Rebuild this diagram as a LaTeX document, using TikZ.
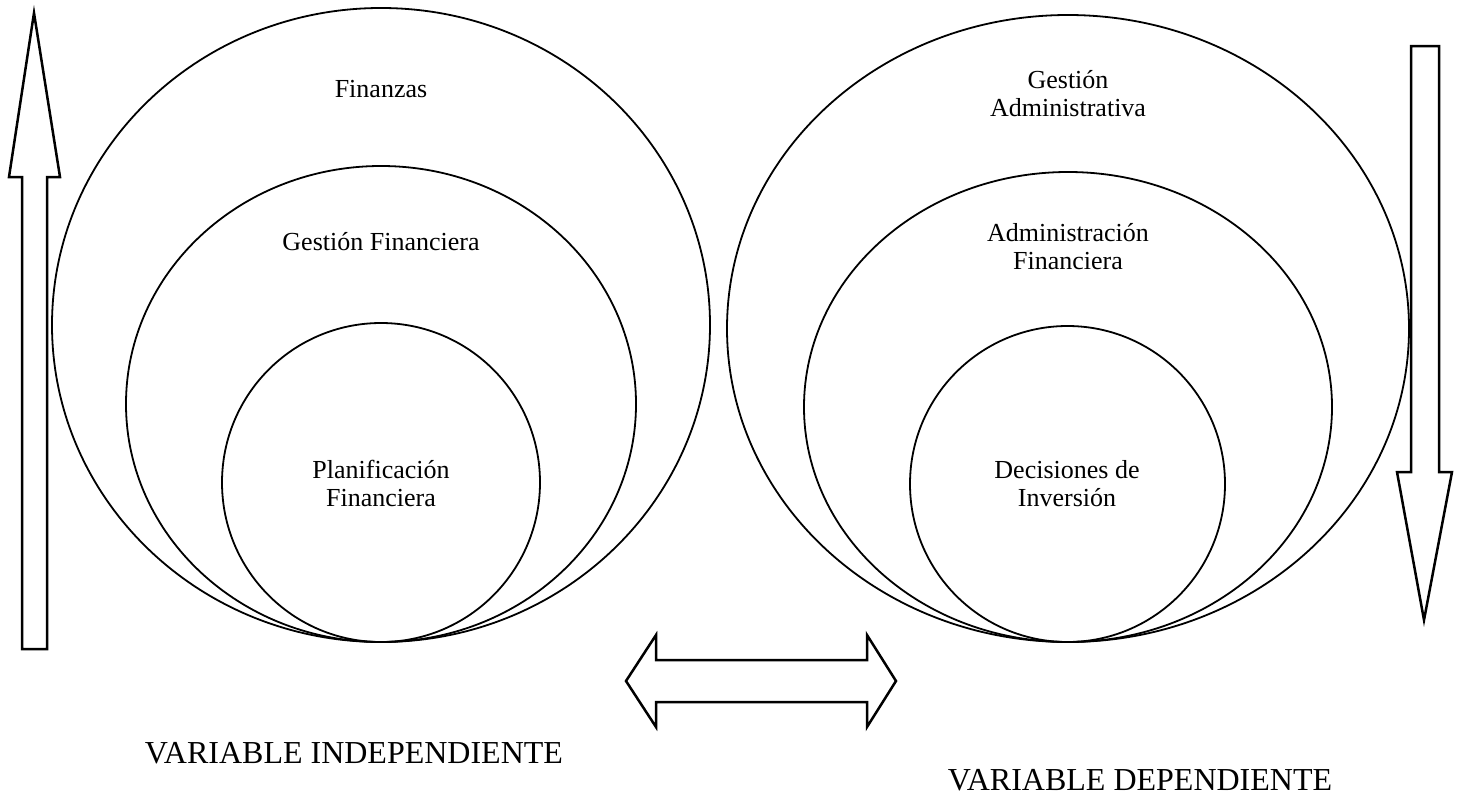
\documentclass[tikz,border=0pt]{standalone}
\usepackage{fontspec}
\setmainfont{Liberation Serif}
\usetikzlibrary{shapes.geometric}

\begin{document}
\begin{tikzpicture}[x=1pt, y=-1pt, every node/.style={font=\fontsize{26}{28}\selectfont, align=center}]
\tikzset{ring/.style={draw, ellipse, line width=1.8pt, inner sep=0pt, outer sep=0pt}}
\tikzset{blockarrow/.style={draw, line width=2.5pt, line join=miter}}
\tikzset{varlabel/.style={font=\fontsize{32}{36}\selectfont, anchor=base}}
\useasboundingbox (0,0) rectangle (1462,803);

% independiente
\node[ring, minimum width=658pt, minimum height=634pt] (fin) at (381,325) {};
\node[ring, minimum width=510pt, minimum height=476pt] (gfin) at (381,404) {};
\node[ring, minimum width=318pt, minimum height=319pt] (plan) at (381,482.5) {};
\node[anchor=base] (tfin) at (381,97) {Finanzas};
\node[anchor=base] (tgfin) at (381,250) {Gestión Financiera};
\node[anchor=base] (tplan) at (381,506) {Planificación\\Financiera};

% dependiente
\node[ring, minimum width=682pt, minimum height=627pt] (gadm) at (1068,328.5) {};
\node[ring, minimum width=528pt, minimum height=470pt] (afin) at (1068,407) {};
\node[ring, minimum width=315pt, minimum height=316pt] (dinv) at (1067.5,484) {};
\node[anchor=base] (tgadm) at (1068,116) {Gestión\\Administrativa};
\node[anchor=base] (tafin) at (1068,269) {Administración\\Financiera};
\node[anchor=base] (tdinv) at (1067,506) {Decisiones de\\Inversión};

% flechas
\draw[blockarrow] (34,13) -- (60,177) -- (47,177) -- (47,649) -- (22,649)
  -- (22,177) -- (9,177) -- cycle;
\draw[blockarrow] (1411,46) -- (1439,46) -- (1439,472) -- (1452,472) -- (1424,620)
  -- (1397,472) -- (1411,472) -- cycle;
\draw[blockarrow] (626,681) -- (656,635) -- (656,660) -- (867,660) -- (867,635)
  -- (896,681) -- (867,727) -- (867,702) -- (656,702) -- (656,727) -- cycle;

\node[varlabel] (vind) at (354,763) {VARIABLE INDEPENDIENTE};
\node[varlabel] (vdep) at (1140,790) {VARIABLE DEPENDIENTE};
\end{tikzpicture}
\end{document}
